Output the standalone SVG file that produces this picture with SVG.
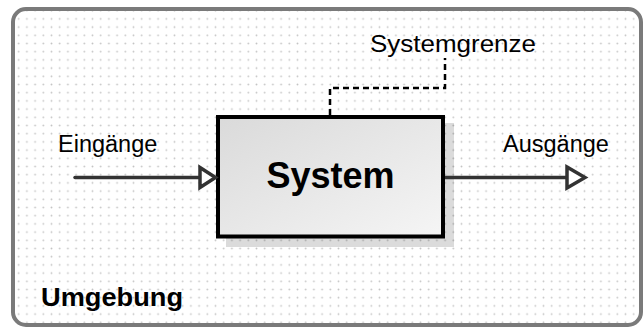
<svg xmlns="http://www.w3.org/2000/svg" width="644" height="331" viewBox="0 0 644 331">
  <style>
    .label { font-family: "Liberation Sans", Arial, sans-serif; fill: #000; }
    .flow { stroke: #333; stroke-width: 3.5; fill: none; }
    .head { stroke: #333; stroke-width: 3.5; fill: #fff; stroke-linejoin: miter; }
  </style>
  <defs>
    <pattern id="grid" x="6.4" y="6.6" width="8.2" height="8.2" patternUnits="userSpaceOnUse">
      <circle cx="4.1" cy="4.1" r="0.9" fill="#c4c4c4"/>
    </pattern>
    <linearGradient id="boxFill" x1="0" y1="0" x2="1" y2="1">
      <stop offset="0" stop-color="#dadada"/>
      <stop offset="1" stop-color="#f5f5f5"/>
    </linearGradient>
  </defs>

  <rect width="644" height="331" fill="#fff"/>

  <!-- environment frame -->
  <g id="umgebung">
    <rect x="13" y="9" width="628" height="316" rx="13" fill="url(#grid)" stroke="#7a7a7a" stroke-width="4"/>
    <text class="label" x="41" y="306" font-size="25" font-weight="bold" textLength="142" lengthAdjust="spacingAndGlyphs">Umgebung</text>
  </g>

  <!-- system block -->
  <g id="system">
    <rect x="226" y="123" width="228" height="124" fill="#000" fill-opacity="0.14"/>
    <rect x="218" y="117" width="225" height="119.5" fill="url(#boxFill)" stroke="#000" stroke-width="4"/>
    <text class="label" x="330.5" y="188" font-size="36" font-weight="bold" text-anchor="middle">System</text>
  </g>

  <g id="systemgrenze">
    <text class="label" x="370" y="52" font-size="24" textLength="166" lengthAdjust="spacingAndGlyphs">Systemgrenze</text>
  </g>

  <g id="eingaenge">
    <text class="label" x="58" y="152" font-size="23.5">Eingänge</text>
  </g>

  <g id="ausgaenge">
    <text class="label" x="503" y="152" font-size="23.5">Ausgänge</text>
  </g>

  <!-- connectors -->
  <g id="connectors">
    <path d="M330 115 V88 H445 V58" fill="none" stroke="#000" stroke-width="2.5" stroke-dasharray="6 4"/>
    <line class="flow" x1="75" y1="177.5" x2="200" y2="177.5" stroke-linecap="round"/>
    <polygon class="head" points="200,167.5 215.5,177.5 200,187.5"/>
    <line class="flow" x1="445" y1="177.5" x2="567" y2="177.5"/>
    <polygon class="head" points="567,167 585,177.5 567,188"/>
  </g>
</svg>
